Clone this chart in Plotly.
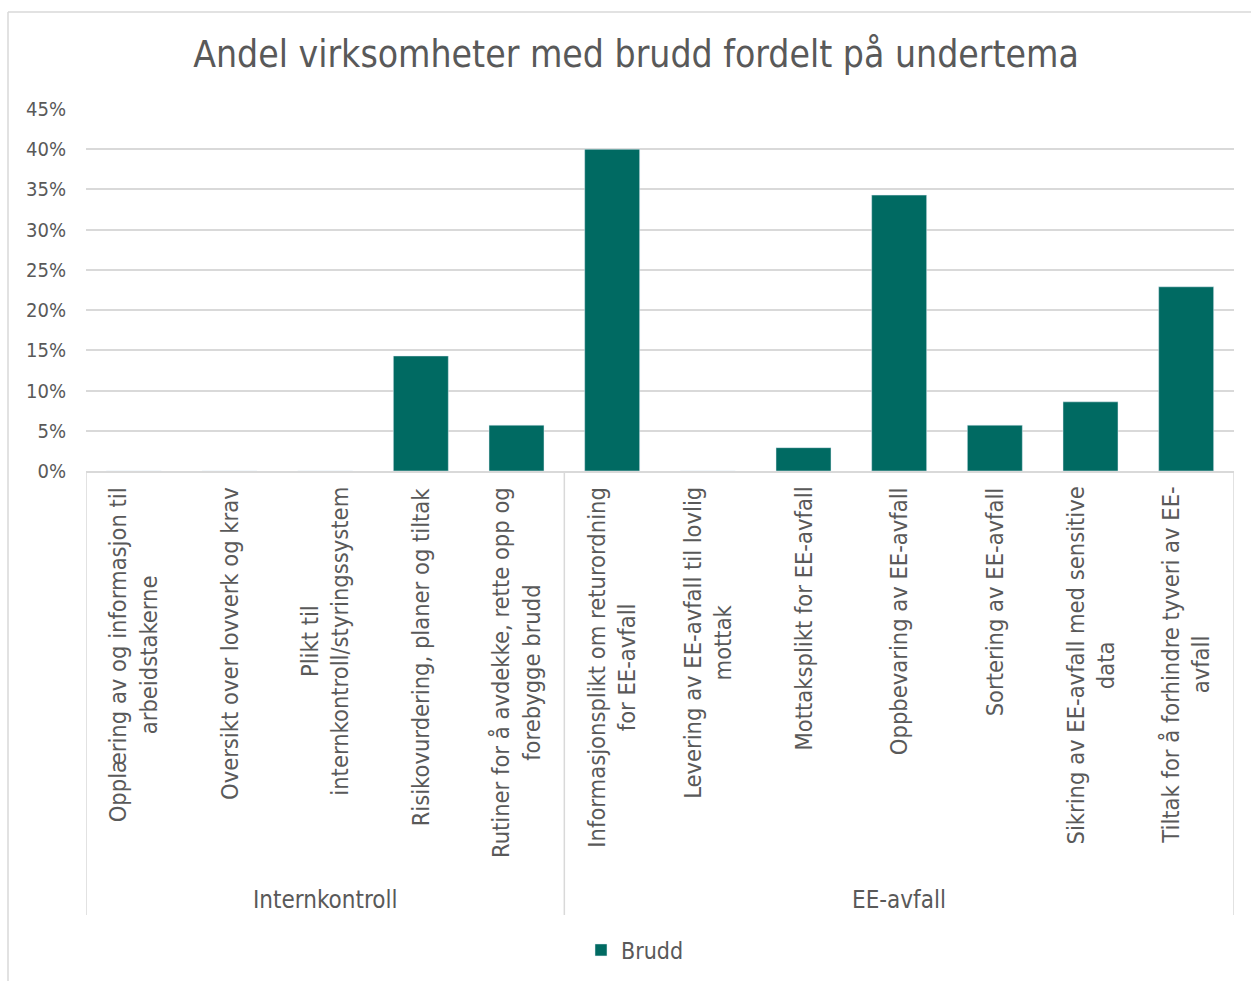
import plotly.graph_objects as go

categories = [
    "Opplæring av og informasjon til<br>arbeidstakerne",
    "Oversikt over lovverk og krav",
    "Plikt til<br>internkontroll/styringssystem",
    "Risikovurdering, planer og tiltak",
    "Rutiner for å avdekke, rette opp og<br>forebygge brudd",
    "Informasjonsplikt om returordning<br>for EE-avfall",
    "Levering av EE-avfall til lovlig<br>mottak",
    "Mottaksplikt for EE-avfall",
    "Oppbevaring av EE-avfall",
    "Sortering av EE-avfall",
    "Sikring av EE-avfall med sensitive<br>data",
    "Tiltak for å forhindre tyveri av EE-<br>avfall",
]
groups = ["Internkontroll", "EE-avfall"]
group_sizes = [5, 7]
brudd = [0.0, 0.0, 0.0, 0.143, 0.057, 0.40, 0.0, 0.029, 0.343, 0.057, 0.086, 0.229]
y_ticks = [0, 0.05, 0.10, 0.15, 0.20, 0.25, 0.30, 0.35, 0.40, 0.45]

FONT = "DejaVu Sans Condensed, DejaVu Sans, sans-serif"
GRAY = "#595959"
BAR = "#006A62"
GRID = "#D9D9D9"

xs = list(range(len(categories)))

fig = go.Figure()
fig.add_trace(go.Bar(x=xs, y=brudd, name="Brudd", marker_color=BAR, showlegend=True))

W, H = 1251, 981
L, R, T, B = 86, 17, 109, 510
pw = W - L - R
ph = H - T - B

def py(pix):
    return (H - B - pix) / ph

def px(pix):
    return (pix - L) / pw

# category labels
for i, c in enumerate(categories):
    fig.add_annotation(x=i, y=py(485), xref="x", yref="paper", text=c, textangle=-90,
                       showarrow=False, yanchor="top", xanchor="center", align="center",
                       font=dict(family=FONT, size=23.5, color=GRAY))

# group separators and labels
start = 0
bounds = [-0.5]
for g, n in zip(groups, group_sizes):
    end = start + n
    bounds.append(end - 0.5)
    fig.add_annotation(x=(start + end - 1) / 2, y=py(900), xref="x", yref="paper", text=g,
                       showarrow=False, yanchor="middle", xanchor="center",
                       font=dict(family=FONT, size=24, color=GRAY))
    start = end
for b in bounds:
    fig.add_shape(type="line", xref="x", yref="paper", x0=b, x1=b, y0=0, y1=py(915),
                  line=dict(color=GRID, width=1.5))

# chart frame
fig.add_shape(type="line", xref="paper", yref="paper", x0=px(8), x1=px(8), y0=py(12), y1=py(981),
              line=dict(color=GRID, width=1.5))
fig.add_shape(type="line", xref="paper", yref="paper", x0=px(8), x1=px(1251), y0=py(12), y1=py(12),
              line=dict(color=GRID, width=1.5))

fig.update_layout(
    width=W, height=H,
    margin=dict(l=L, r=R, t=T, b=B, autoexpand=False),
    paper_bgcolor="white", plot_bgcolor="white",
    bargap=0.425,
    title=dict(text="Andel virksomheter med brudd fordelt på undertema", x=636 / W, xref="container",
               xanchor="center", y=1 - 54 / H, yref="container", yanchor="middle",
               font=dict(family=FONT, size=37, color=GRAY)),
    font=dict(family=FONT, color=GRAY),
    legend=dict(orientation="h", x=px(635), xanchor="center", y=py(950), yanchor="middle",
                font=dict(family=FONT, size=23, color=GRAY), itemwidth=30),
    xaxis=dict(range=[-0.5, 11.5], showticklabels=False, showgrid=False, zeroline=False,
               showline=True, linecolor=GRID, linewidth=1.5, ticks=""),
    yaxis=dict(range=[0, 0.45], tickvals=y_ticks, tickformat=".0%", showgrid=True, gridcolor=GRID,
               gridwidth=1.5, zeroline=False, showline=False, ticks="outside", ticklen=15,
               tickcolor="rgba(0,0,0,0)", tickfont=dict(family=FONT, size=20, color=GRAY)),
)

fig.write_html("out.html", config={"displayModeBar": False},
               post_script="document.body.style.margin='0';")
